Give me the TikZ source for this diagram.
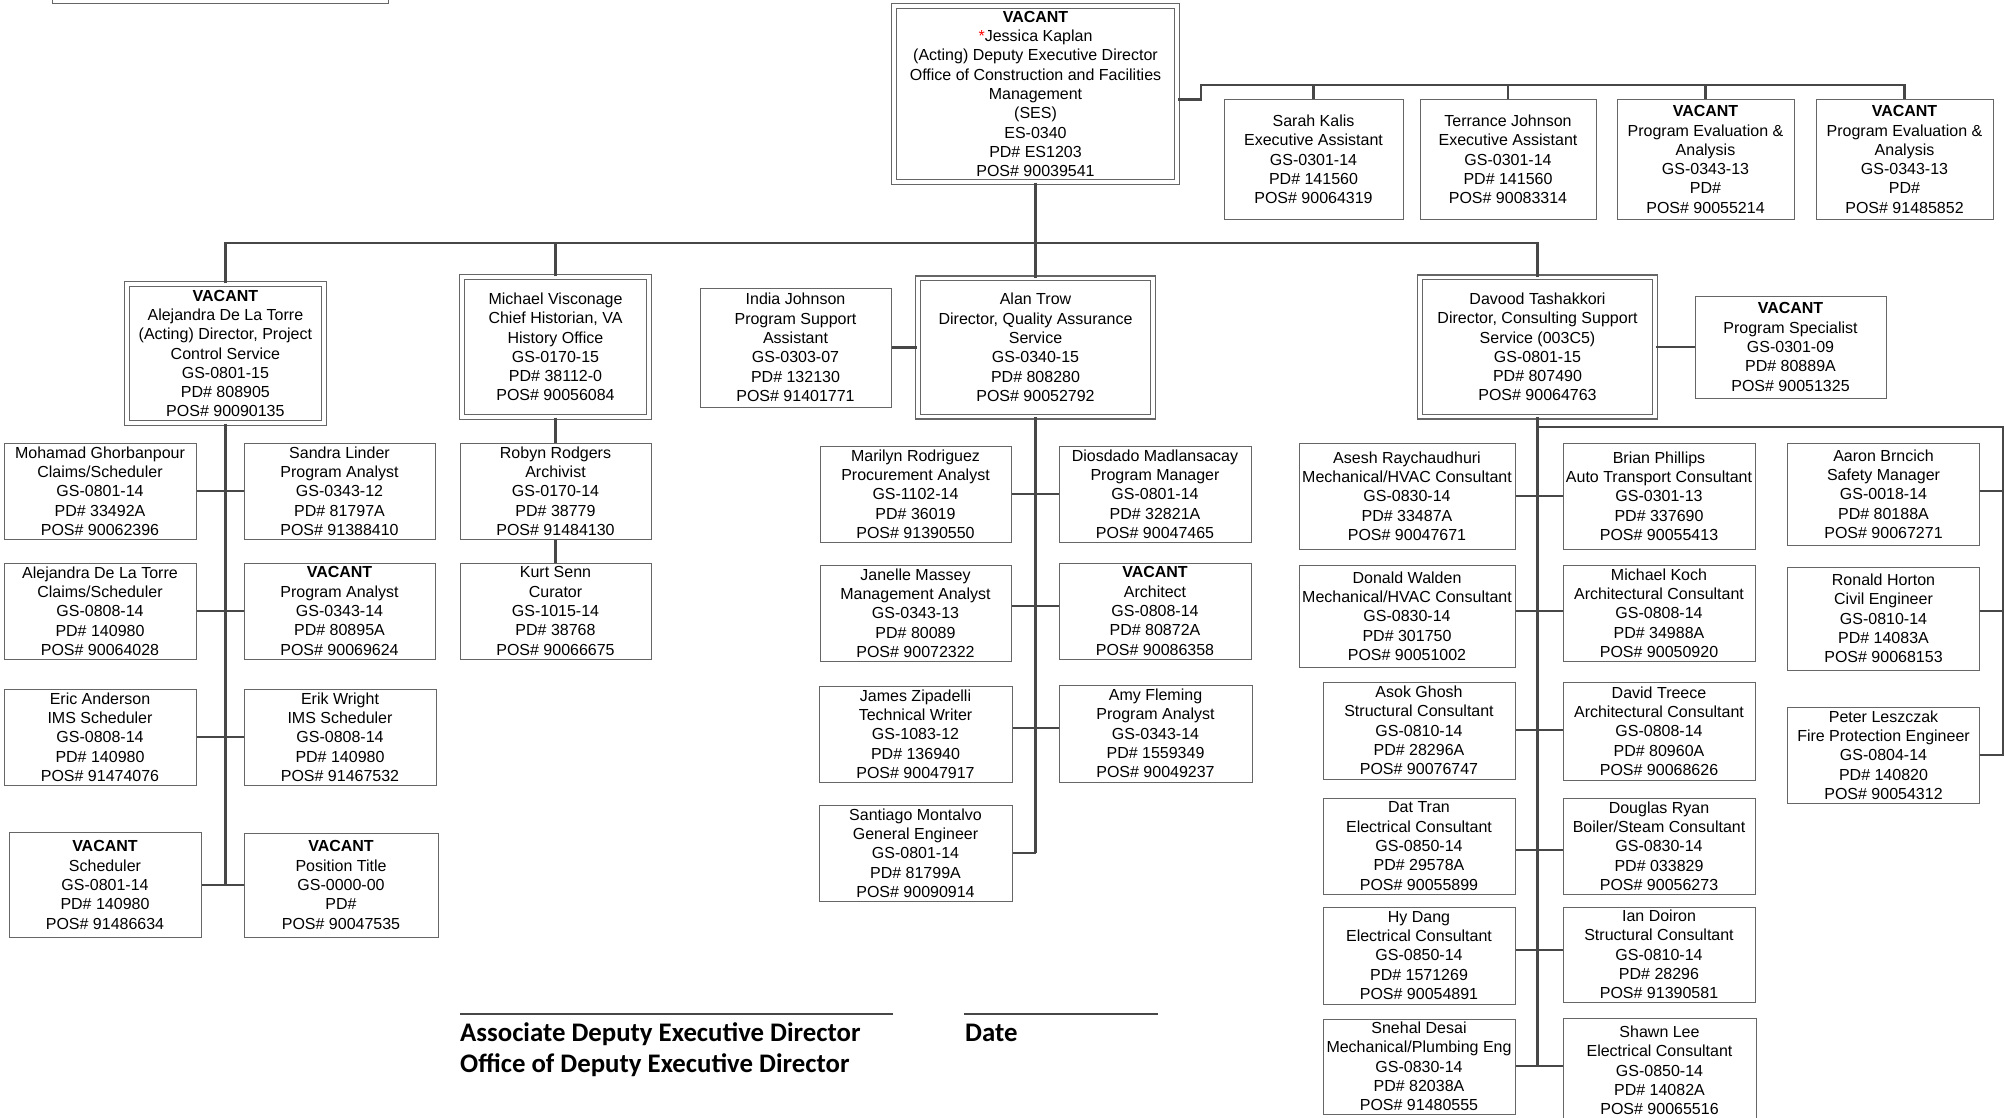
\documentclass[tikz,border=0pt]{standalone}
\usepackage{fontspec}
\setmainfont{Liberation Sans}
\newfontfamily\sigfont{Carlito}
\newcommand\VAC{\textbf{VACANT}}
\begin{document}
\begin{tikzpicture}[x=1pt,y=-1pt,
 box/.style={draw=black!60, line width=1pt, fill=white, align=center, inner sep=0pt, font=\fontsize{16}{19.3}\selectfont},
 dbox/.style={box, double=white, double distance=3.4pt, line width=1.15pt},
 wh/.style 2 args={minimum width=#1, minimum height=#2},
 conn/.style={draw=black!72, line width=2.4pt},
 sig/.style={draw=black!72, line width=2pt},
 sigtext/.style={inner sep=0pt, anchor=base west, font=\sigfont\bfseries\fontsize{26.8}{31}\selectfont}]
\useasboundingbox (0,0) rectangle (2005,1118);
\clip (0,0) rectangle (2005,1118);

% partial box at top left
\node[box, wh={336}{20}] (topbox) at (220,-6) {};

% top
\node[dbox, wh={283}{176}] (dep) at (1035.5,94) {\VAC\\{\color{red}*}Jessica Kaplan\\(Acting) Deputy Executive Director\\Office of Construction and Facilities\\Management\\(SES)\\ES-0340\\PD\# ES1203\\POS\# 90039541};

\node[box, wh={179}{120}] (sarah) at (1313.5,159.5) {Sarah Kalis\\Executive Assistant\\GS-0301-14\\PD\# 141560\\POS\# 90064319};
\node[box, wh={176}{120}] (terrance) at (1508,159.5) {Terrance Johnson\\Executive Assistant\\GS-0301-14\\PD\# 141560\\POS\# 90083314};
\node[box, wh={177}{120}] (vac1) at (1705.5,159.5) {\VAC\\Program Evaluation \&\\Analysis\\GS-0343-13\\PD\#\\POS\# 90055214};
\node[box, wh={177}{120}] (vac2) at (1904.5,159.5) {\VAC\\Program Evaluation \&\\Analysis\\GS-0343-13\\PD\#\\POS\# 91485852};

% second level
\node[dbox, wh={197}{139}] (pcs) at (225.4,353.5) {\VAC\\Alejandra De La Torre\\(Acting) Director, Project\\Control Service\\GS-0801-15\\PD\# 808905\\POS\# 90090135};
\node[dbox, wh={187}{140}] (hist) at (555.5,347) {Michael Visconage\\Chief Historian, VA\\History Office\\GS-0170-15\\PD\# 38112-0\\POS\# 90056084};
\node[box, wh={191}{119}] (india) at (795.5,347.5) {India Johnson\\Program Support\\Assistant\\GS-0303-07\\PD\# 132130\\POS\# 91401771};
\node[dbox, wh={235}{138.5}] (qa) at (1035.5,347.5) {Alan Trow\\Director, Quality Assurance\\Service\\GS-0340-15\\PD\# 808280\\POS\# 90052792};
\node[dbox, wh={235}{139.5}] (css) at (1537.5,347) {Davood Tashakkori\\Director, Consulting Support\\Service (003C5)\\GS-0801-15\\PD\# 807490\\POS\# 90064763};
\node[box, wh={191}{102}] (pspec) at (1790.5,347) {\VAC\\Program Specialist\\GS-0301-09\\PD\# 80889A\\POS\# 90051325};

% left column
\node[box, wh={192}{96}] (mg) at (100,491) {Mohamad Ghorbanpour\\Claims/Scheduler\\GS-0801-14\\PD\# 33492A\\POS\# 90062396};
\node[box, wh={191}{96}] (sl) at (339.5,491) {Sandra Linder\\Program Analyst\\GS-0343-12\\PD\# 81797A\\POS\# 91388410};
\node[box, wh={192}{96}] (adlt) at (100,611) {Alejandra De La Torre\\Claims/Scheduler\\GS-0808-14\\PD\# 140980\\POS\# 90064028};
\node[box, wh={191}{96}] (vpa) at (339.5,611) {\VAC\\Program Analyst\\GS-0343-14\\PD\# 80895A\\POS\# 90069624};
\node[box, wh={192}{96}] (ea) at (100,737) {Eric Anderson\\IMS Scheduler\\GS-0808-14\\PD\# 140980\\POS\# 91474076};
\node[box, wh={192}{96}] (ew) at (340,737) {Erik Wright\\IMS Scheduler\\GS-0808-14\\PD\# 140980\\POS\# 91467532};
\node[box, wh={192}{105}] (vsch) at (105,885) {\VAC\\Scheduler\\GS-0801-14\\PD\# 140980\\POS\# 91486634};
\node[box, wh={194}{104}] (vpt) at (341,885) {\VAC\\Position Title\\GS-0000-00\\PD\#\\POS\# 90047535};

% history column
\node[box, wh={191}{96}] (rr) at (555.5,491) {Robyn Rodgers\\Archivist\\GS-0170-14\\PD\# 38779\\POS\# 91484130};
\node[box, wh={191}{96}] (ks) at (555.5,611) {Kurt Senn\\Curator\\GS-1015-14\\PD\# 38768\\POS\# 90066675};

% QA column
\node[box, wh={191}{96}] (mr) at (915.5,494) {Marilyn Rodriguez\\Procurement Analyst\\GS-1102-14\\PD\# 36019\\POS\# 91390550};
\node[box, wh={192}{96}] (dm) at (1155,494) {Diosdado Madlansacay\\Program Manager\\GS-0801-14\\PD\# 32821A\\POS\# 90047465};
\node[box, wh={191}{96}] (jm) at (915.5,613) {Janelle Massey\\Management Analyst\\GS-0343-13\\PD\# 80089\\POS\# 90072322};
\node[box, wh={192}{96}] (varch) at (1155,611) {\VAC\\Architect\\GS-0808-14\\PD\# 80872A\\POS\# 90086358};
\node[box, wh={193}{96}] (jz) at (915.5,734) {James Zipadelli\\Technical Writer\\GS-1083-12\\PD\# 136940\\POS\# 90047917};
\node[box, wh={193}{97}] (af) at (1155.5,733.5) {Amy Fleming\\Program Analyst\\GS-0343-14\\PD\# 1559349\\POS\# 90049237};
\node[box, wh={193}{96}] (sm) at (915.5,853) {Santiago Montalvo\\General Engineer\\GS-0801-14\\PD\# 81799A\\POS\# 90090914};

% CSS column
\node[box, wh={216}{106}] (ar) at (1407,496) {Asesh Raychaudhuri\\Mechanical/HVAC Consultant\\GS-0830-14\\PD\# 33487A\\POS\# 90047671};
\node[box, wh={192}{106}] (bp) at (1659,496) {Brian Phillips\\Auto Transport Consultant\\GS-0301-13\\PD\# 337690\\POS\# 90055413};
\node[box, wh={216}{102}] (dw) at (1407,616) {Donald Walden\\Mechanical/HVAC Consultant\\GS-0830-14\\PD\# 301750\\POS\# 90051002};
\node[box, wh={192}{96}] (mk) at (1659,613) {Michael Koch\\Architectural Consultant\\GS-0808-14\\PD\# 34988A\\POS\# 90050920};
\node[box, wh={192}{97}] (ag) at (1419,730.5) {Asok Ghosh\\Structural Consultant\\GS-0810-14\\PD\# 28296A\\POS\# 90076747};
\node[box, wh={192}{98}] (dt) at (1659,731) {David Treece\\Architectural Consultant\\GS-0808-14\\PD\# 80960A\\POS\# 90068626};
\node[box, wh={192}{96}] (dtr) at (1419,846) {Dat Tran\\Electrical Consultant\\GS-0850-14\\PD\# 29578A\\POS\# 90055899};
\node[box, wh={192}{96}] (dr) at (1659,846) {Douglas Ryan\\Boiler/Steam Consultant\\GS-0830-14\\PD\# 033829\\POS\# 90056273};
\node[box, wh={192}{97}] (hd) at (1419,955.5) {Hy Dang\\Electrical Consultant\\GS-0850-14\\PD\# 1571269\\POS\# 90054891};
\node[box, wh={192}{95}] (idn) at (1659,954.5) {Ian Doiron\\Structural Consultant\\GS-0810-14\\PD\# 28296\\POS\# 91390581};
\node[box, wh={192}{95}] (sd) at (1419,1066.5) {Snehal Desai\\Mechanical/Plumbing Eng\\GS-0830-14\\PD\# 82038A\\POS\# 91480555};
\node[box, wh={193}{104}] (sle) at (1659.5,1070.5) {Shawn Lee\\Electrical Consultant\\GS-0850-14\\PD\# 14082A\\POS\# 90065516};

% right column
\node[box, wh={192}{102}] (ab) at (1883.5,494) {Aaron Brncich\\Safety Manager\\GS-0018-14\\PD\# 80188A\\POS\# 90067271};
\node[box, wh={192}{103}] (rh) at (1883.5,618.5) {Ronald Horton\\Civil Engineer\\GS-0810-14\\PD\# 14083A\\POS\# 90068153};
\node[box, wh={192}{96}] (pl) at (1883.5,755) {Peter Leszczak\\Fire Protection Engineer\\GS-0804-14\\PD\# 140820\\POS\# 90054312};

% ---------- connectors ----------
\coordinate (tb) at (1201,85);
\draw[conn] ([yshift=-5.5pt]dep.east) -| (tb) -| (vac2.north);
\foreach \n in {sarah,terrance,vac1} \draw[conn] (\n.north) -- (\n.north |- tb);

\draw[conn] (pcs.north) |- (css.north |- 0,243) -- (css.north);
\draw[conn] (dep.south) -- (dep.south |- 0,243);
\draw[conn] (hist.north) -- (hist.north |- 0,243);
\draw[conn] (qa.north) -- (qa.north |- 0,243);

% left
\draw[conn] (pcs.south) -- (pcs.south |- vsch.east);
\draw[conn] (mg.east) -- (sl.west);
\draw[conn] (adlt.east) -- (vpa.west);
\draw[conn] (ea.east) -- (ew.west);
\draw[conn] (vsch.east) -- (vpt.west);

% history
\draw[conn] (hist.south) -- (rr.north);
\draw[conn] (rr.south) -- (ks.north);

% QA
\draw[conn] (india.east) -- (qa.west);
\draw[conn] (qa.south) -- (qa.south |- sm.east);
\draw[conn] (mr.east) -- (dm.west);
\draw[conn] (jm.east |- 0,606) -- (varch.west |- 0,606);
\draw[conn] (jz.east |- 0,728) -- (af.west |- 0,728);
\draw[conn] (sm.east) -- (qa.south |- sm.east);

% CSS
\draw[conn] (css.east) -- (pspec.west);
\draw[conn] (css.south) -- (css.south |- 0,1066);
\draw[conn] (ar.east) -- (bp.west);
\draw[conn] (dw.east |- 0,611) -- (mk.west |- 0,611);
\draw[conn] (ag.east |- 0,730) -- (dt.west |- 0,730);
\draw[conn] (dtr.east |- 0,850) -- (dr.west |- 0,850);
\draw[conn] (hd.east |- 0,950) -- (idn.west |- 0,950);
\draw[conn] (sd.east |- 0,1066) -- (sle.west |- 0,1066);

% right branch
\coordinate (rb) at (2003,427);
\draw[conn] (css.south |- rb) -- (rb) -- (rb |- pl.east) -- (pl.east);
\draw[conn] (ab.east |- 0,491) -- (rb |- 0,491);
\draw[conn] (rh.east |- 0,611) -- (rb |- 0,611);

% signature block
\coordinate (s1a) at (460,1014);
\coordinate (s1b) at (893,1014);
\coordinate (s2a) at (964,1014);
\coordinate (s2b) at (1158,1014);
\draw[sig] (s1a) -- (s1b);
\draw[sig] (s2a) -- (s2b);
\node[sigtext] (sigA) at (460,1041) {Associate Deputy Executive Director};
\node[sigtext] (sigB) at (460,1072) {Office of Deputy Executive Director};
\node[sigtext] (sigC) at (965,1041) {Date};
\end{tikzpicture}
\end{document}
